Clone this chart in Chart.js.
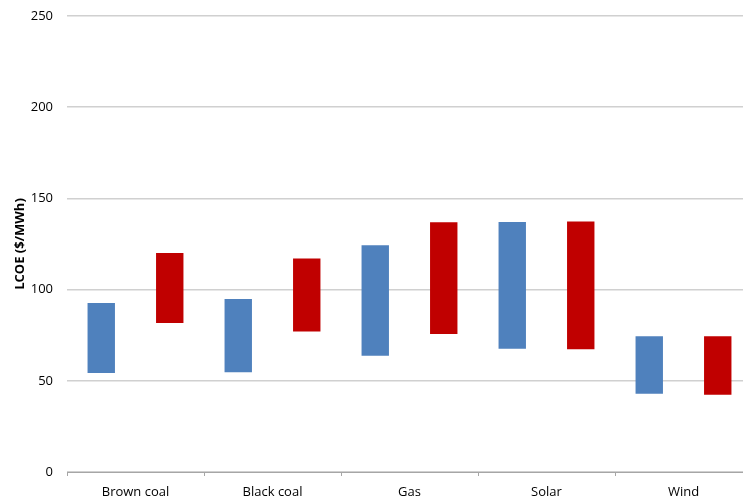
<!DOCTYPE html>
<html>
<head>
<meta charset="utf-8">
<script src="https://cdn.jsdelivr.net/npm/chart.js@4/dist/chart.umd.min.js"></script>
<style>
  html, body { margin: 0; padding: 0; background: #fff; overflow: hidden; }
  #wrap { position: relative; width: 760px; height: 503px; }
</style>
</head>
<body>
<div id="wrap"><canvas id="c"></canvas></div>
<script>
const categories = ["Brown coal", "Black coal", "Gas", "Solar", "Wind"];
const seriesBlueLow  = [54.3, 54.7, 63.8, 67.6, 42.9];
const seriesBlueHigh = [92.6, 94.8, 124.3, 137.1, 74.4];
const seriesRedLow   = [81.7, 77.0, 75.7, 67.3, 42.4];
const seriesRedHigh  = [120.0, 117.0, 136.9, 137.4, 74.4];
const yTicks = [0, 50, 100, 150, 200, 250];

const font = "'Open Sans', 'Liberation Sans', sans-serif";

new Chart(document.getElementById('c'), {
  type: 'bar',
  data: {
    labels: categories,
    datasets: [
      {
        label: 'Low',
        data: categories.map((_, i) => [seriesBlueLow[i], seriesBlueHigh[i]]),
        backgroundColor: '#4F81BD',
        borderWidth: 0,
        borderSkipped: false,
        categoryPercentage: 1.0,
        barPercentage: 0.4
      },
      {
        label: 'High',
        data: categories.map((_, i) => [seriesRedLow[i], seriesRedHigh[i]]),
        backgroundColor: '#C00000',
        borderWidth: 0,
        borderSkipped: false,
        categoryPercentage: 1.0,
        barPercentage: 0.4
      }
    ]
  },
  options: {
    responsive: true,
    maintainAspectRatio: false,
    animation: false,
    layout: { padding: { top: 16, right: 8, left: 0, bottom: 0 } },
    plugins: {
      legend: { display: false },
      tooltip: { enabled: false }
    },
    scales: {
      x: {
        grid: {
          drawOnChartArea: false,
          offset: true,
          tickLength: 4,
          color: '#a6a6a6',
          lineWidth: 1
        },
        border: { display: true, color: '#a6a6a6', width: 1 },
        ticks: {
          color: '#000',
          font: { family: font, size: 13 },
          padding: 8,
          maxRotation: 0
        },
        afterFit: (s) => { s.height = 31; s.paddingLeft = 0; s.paddingRight = 0; }
      },
      y: {
        min: 0,
        max: 250,
        afterBuildTicks: (s) => { s.ticks = yTicks.map(v => ({ value: v })); },
        grid: {
          drawTicks: false,
          color: '#d0d0d0',
          lineWidth: 1.5
        },
        border: { display: false },
        ticks: {
          color: '#000',
          font: { family: font, size: 13 },
          padding: 14
        },
        title: {
          display: true,
          text: 'LCOE ($/MWh)',
          color: '#000',
          font: { family: font, size: 13, weight: 'bold' },
          padding: { top: 12, bottom: 0 }
        },
        afterFit: (s) => { s.width = 67; s.paddingTop = 0; s.paddingBottom = 0; }
      }
    }
  }
});
</script>
</body>
</html>
